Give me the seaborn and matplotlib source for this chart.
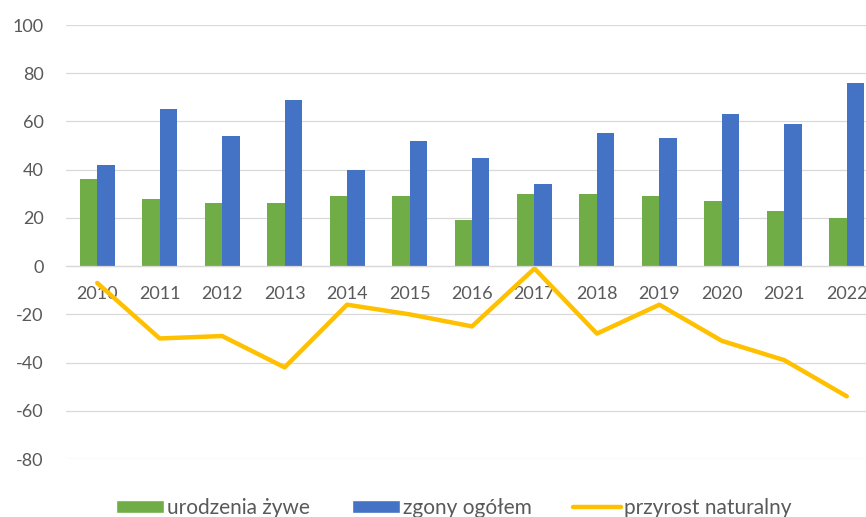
import pandas as pd
import seaborn as sns
import matplotlib.pyplot as plt
from matplotlib.patches import Patch
from matplotlib.lines import Line2D

lata = ['2010', '2011', '2012', '2013', '2014', '2015', '2016',
        '2017', '2018', '2019', '2020', '2021', '2022']
urodzenia = [36, 28, 26, 26, 29, 29, 19, 30, 30, 29, 27, 23, 20]
zgony = [42, 65, 54, 69, 40, 52, 45, 34, 55, 53, 63, 59, 76]
przyrost = [-7, -30, -29, -42, -16, -20, -25, -1, -28, -16, -31, -39, -54]

serie = ['urodzenia żywe', 'zgony ogółem']
kolory = ['#70AD47', '#4472C4']
kolor_linii = '#FFC000'

df_bar = pd.DataFrame({
    'rok': lata * 2,
    'wartosc': urodzenia + zgony,
    'seria': [serie[0]] * len(lata) + [serie[1]] * len(lata),
})
df_line = pd.DataFrame({'rok': lata, 'przyrost': przyrost})

sns.set_style("white")
plt.rcParams['font.family'] = ['Lato', 'DejaVu Sans']
plt.rcParams['axes.unicode_minus'] = False
szary = '#595959'

fig = plt.figure(figsize=(8.66, 5.17), dpi=100)
# plot area runs slightly past the right edge, like the cropped original
ax = fig.add_axes([66 / 866, 58 / 517, 812 / 866, 434 / 517])

sns.barplot(data=df_bar, x='rok', y='wartosc', hue='seria', palette=kolory,
            width=0.56, gap=0, saturation=1, linewidth=0, legend=False, ax=ax)
sns.lineplot(data=df_line, x='rok', y='przyrost', color=kolor_linii,
             linewidth=3.2, sort=False, ax=ax)

ax.set_ylim(-80, 100)
ax.set_xlim(-0.5, 12.5)
ax.set_yticks(range(-80, 101, 20))
ax.yaxis.grid(True, color='#D9D9D9', linewidth=0.9)
ax.set_axisbelow(True)
for s in ['top', 'right', 'left']:
    ax.spines[s].set_visible(False)
ax.spines['bottom'].set_position(('data', 0))
ax.spines['bottom'].set_color('#D9D9D9')
ax.spines['bottom'].set_linewidth(0.9)
ax.tick_params(axis='x', length=0, pad=14, labelsize=13, labelcolor=szary)
ax.tick_params(axis='y', length=0, pad=16, labelsize=13, labelcolor=szary)
ax.set_xlabel('')
ax.set_ylabel('')

uchwyty = [Patch(facecolor=kolory[0], label=serie[0]),
           Patch(facecolor=kolory[1], label=serie[1]),
           Line2D([0], [0], color=kolor_linii, linewidth=3.2, label='przyrost naturalny')]
fig.legend(handles=uchwyty, loc='center', bbox_to_anchor=(454 / 866, 0.017),
           ncol=3, frameon=False, fontsize=15, labelcolor=szary,
           handlelength=2.3, handleheight=0.6, handletextpad=0.15, columnspacing=2.0)

fig.savefig('out.png', dpi=100)
